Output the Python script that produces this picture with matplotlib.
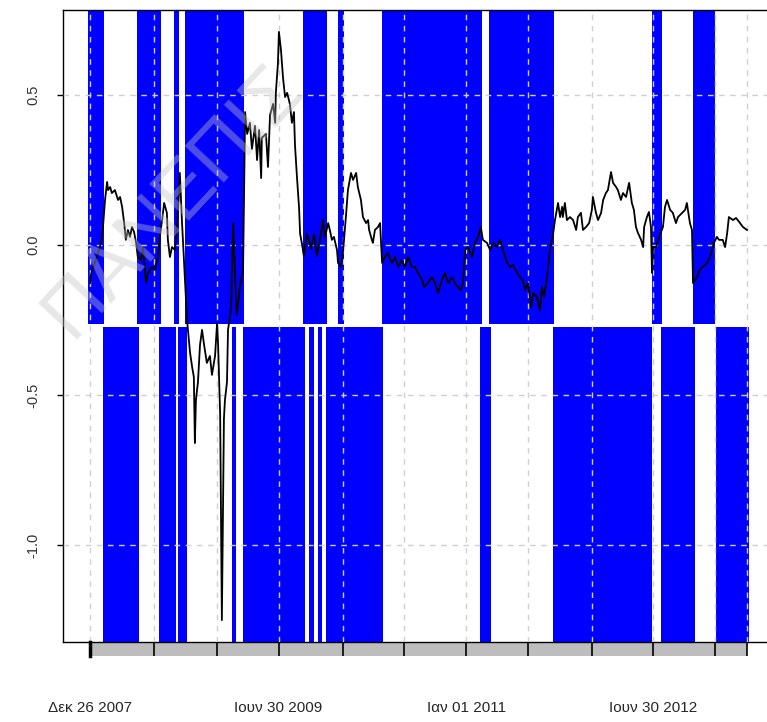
import numpy as np
import matplotlib.pyplot as plt
import matplotlib.dates as mdates
import matplotlib.transforms as mtransforms
from matplotlib.patches import Rectangle

plt.rcParams['font.family'] = ['Liberation Sans', 'DejaVu Sans']

START = np.datetime64('2007-12-26')

# spread series, day offsets from START and values
obs_day = [0, 3, 6, 15, 20, 29, 35, 38, 44, 50, 53, 59, 64, 73, 82, 88, 94, 100, 105, 111,
           117, 123, 129, 135, 140, 149, 155, 164, 170, 181, 190, 199, 205, 211, 217, 225,
           228, 234, 240, 249, 258, 263, 269, 275, 284, 293, 299, 304, 307, 310, 316, 322,
           328, 334, 342, 351, 357, 366, 372, 375, 381, 386, 392, 395, 401, 404, 413, 419,
           424, 430, 439, 448, 454, 460, 468, 474, 483, 489, 495, 501, 503, 515, 521, 527,
           536, 542, 544, 550, 553, 559, 565, 571, 577, 585, 591, 597, 600, 606, 612, 615,
           621, 626, 635, 647, 656, 664, 673, 682, 688, 697, 702, 708, 714, 723, 726, 735,
           741, 749, 755, 764, 770, 779, 784, 793, 799, 808, 814, 817, 825, 828, 834, 843,
           849, 855, 863, 872, 884, 893, 902, 913, 922, 931, 942, 951, 960, 972, 978, 989,
           1001, 1010, 1019, 1030, 1039, 1048, 1060, 1068, 1077, 1086, 1092, 1098, 1106, 1118,
           1127, 1136, 1144, 1150, 1162, 1171, 1180, 1191, 1200, 1209, 1221, 1229, 1238, 1250,
           1259, 1267, 1273, 1282, 1291, 1297, 1308, 1317, 1323, 1329, 1338, 1346, 1355, 1361,
           1370, 1376, 1382, 1384, 1390, 1396, 1405, 1414, 1423, 1428, 1437, 1443, 1452, 1461,
           1469, 1472, 1481, 1487, 1496, 1502, 1510, 1516, 1525, 1531, 1540, 1545, 1554, 1560,
           1569, 1578, 1586, 1592, 1598, 1604, 1613, 1619, 1622, 1630, 1636, 1642, 1645, 1648,
           1657, 1666, 1677, 1683, 1689, 1698, 1706, 1715, 1721, 1733, 1742, 1747, 1756, 1762,
           1765, 1777, 1785, 1794, 1806, 1815, 1826, 1835, 1841, 1852, 1859, 1865, 1870, 1882,
           1891, 1900, 1911, 1923]
obs_val = [-0.127, -0.100, -0.083, -0.057, -0.040, -0.007, 0.023, 0.060, 0.150, 0.210, 0.183,
           0.193, 0.173, 0.183, 0.150, 0.160, 0.127, 0.073, 0.017, 0.050, 0.027, 0.060, 0.043,
           0.007, -0.040, -0.050, -0.007, -0.127, -0.093, -0.073, -0.083, -0.040, 0.033, 0.083,
           0.140, 0.107, 0.017, -0.040, -0.007, -0.017, 0.117, 0.240, 0.083, -0.050, -0.250,
           -0.360, -0.407, -0.440, -0.660, -0.517, -0.457, -0.333, -0.283, -0.333, -0.393,
           -0.370, -0.433, -0.370, -0.260, -0.333, -0.567, -1.250, -0.580, -0.517, -0.457,
           -0.283, -0.210, 0.073, -0.087, -0.233, -0.137, -0.087, 0.443, 0.370, 0.407, 0.320,
           0.397, 0.283, 0.383, 0.223, 0.357, 0.370, 0.260, 0.433, 0.470, 0.407, 0.507, 0.603,
           0.710, 0.650, 0.557, 0.493, 0.507, 0.470, 0.407, 0.443, 0.333, 0.223, 0.123, 0.037,
           0.000, -0.037, 0.037, -0.013, 0.037, -0.037, 0.017, 0.083, 0.027, 0.073, 0.050,
           0.017, 0.027, -0.017, -0.060, -0.073, -0.017, 0.093, 0.183, 0.240, 0.217, 0.240,
           0.193, 0.150, 0.093, 0.073, 0.083, 0.050, 0.017, 0.007, 0.050, 0.060, 0.073, -0.060,
           -0.040, -0.027, -0.060, -0.040, -0.073, -0.050, -0.073, -0.040, -0.073, -0.073,
           -0.093, -0.117, -0.140, -0.127, -0.107, -0.127, -0.160, -0.117, -0.093, -0.127,
           -0.107, -0.127, -0.140, -0.150, -0.127, -0.017, -0.007, -0.040, 0.007, 0.027, 0.060,
           0.017, 0.007, -0.017, 0.007, -0.007, 0.017, -0.017, -0.060, -0.073, -0.067, -0.093,
           -0.107, -0.117, -0.150, -0.127, -0.207, -0.160, -0.173, -0.217, -0.140, -0.173,
           -0.107, -0.017, 0.033, 0.083, 0.140, 0.093, 0.127, 0.093, 0.140, 0.083, 0.093, 0.083,
           0.050, 0.093, 0.107, 0.050, 0.060, 0.073, 0.117, 0.160, 0.107, 0.083, 0.107, 0.150,
           0.173, 0.183, 0.243, 0.207, 0.193, 0.183, 0.150, 0.173, 0.160, 0.207, 0.140, 0.117,
           0.060, 0.040, 0.017, -0.007, 0.060, 0.093, 0.110, 0.060, -0.093, -0.007, -0.007,
           0.027, 0.060, 0.127, 0.150, 0.117, 0.107, 0.073, 0.093, 0.107, 0.117, 0.140, 0.073,
           0.050, -0.127, -0.107, -0.083, -0.073, -0.060, -0.040, 0.007, 0.027, 0.017, 0.017,
           -0.007, 0.040, 0.093, 0.083, 0.090, 0.077, 0.060, 0.050]

# regime periods (day offsets), upper and lower panels
upper_regimes = [(-6, 41), (138, 208), (246, 261), (278, 451), (624, 694), (726, 744),
                 (855, 1147), (1168, 1358), (1645, 1674), (1765, 1829)]
lower_regimes = [(38, 143), (202, 252), (258, 284), (416, 427), (448, 629), (641, 656),
                 (667, 679), (691, 858), (1142, 1174), (1355, 1645), (1672, 1771),
                 (1832, 1929)]
split_level = -0.268

tick_dates = ['2007-12-26', '2008-07-01', '2009-01-02', '2009-06-30', '2010-01-04',
              '2010-07-01', '2011-01-01', '2011-07-01', '2012-01-02', '2012-06-30',
              '2012-12-27', '2013-04-02']
label_dates = ['2007-12-26', '2009-06-30', '2011-01-01', '2012-06-30']
label_text = ['Δεκ 26 2007', 'Ιουν 30 2009', 'Ιαν 01 2011', 'Ιουν 30 2012']
y_ticks = [0.5, 0.0, -0.5, -1.0]


def day_num(days):
    return mdates.date2num(START + np.asarray(days).astype('timedelta64[D]'))


W, H = 767, 722
fig = plt.figure(figsize=(W / 100, H / 100), dpi=100)
ax = fig.add_axes([63 / W, (H - 642) / H, (775 - 63) / W, (642 - 10) / H])

ylo, yhi = -1.323, 0.783
ax.set_ylim(ylo, yhi)
ax.set_xlim(day_num(-79), day_num(2005))
frac = (split_level - ylo) / (yhi - ylo)

for a, b in upper_regimes:
    ax.axvspan(day_num(a), day_num(b), ymin=frac + 0.002, ymax=1, color='#0000ff',
               lw=0, zorder=1)
for a, b in lower_regimes:
    ax.axvspan(day_num(a), day_num(b), ymin=0, ymax=frac - 0.002, color='#0000ff',
               lw=0, zorder=1)

ax.plot(day_num(obs_day), obs_val, color='black', lw=1.3, zorder=3)

ticks = mdates.date2num(np.array(tick_dates, dtype='datetime64[D]'))
ax.set_xticks(ticks)
ax.set_xticklabels([])
ax.tick_params(axis='x', direction='out', length=10, width=1.2, color='black')
ax.set_yticks(y_ticks)
ax.set_yticklabels(['0.5', '0.0', '-0.5', '-1.0'], rotation=90, va='center',
                   fontsize=10.5, color='#333333')
ax.tick_params(axis='y', direction='out', length=4.5, width=1.0, pad=11.5)

ax.set_axisbelow(False)
ax.grid(True, color='#d0d0d0', linestyle=(0, (4, 4)), lw=1.0)

for sp in ax.spines.values():
    sp.set_linewidth(1.0)

# grey strip under the time axis
trans = mtransforms.blended_transform_factory(ax.transData, ax.transAxes)
ax.add_patch(Rectangle((ticks[0], -0.0222), ticks[-1] - ticks[0], 0.0222,
                       transform=trans, color='#bdbdbd', lw=0, clip_on=False, zorder=0))
ax.plot([ticks[0], ticks[0]], [-0.0222, 0], transform=trans, color='black', lw=2.5,
        clip_on=False, zorder=4)

lab = mdates.date2num(np.array(label_dates, dtype='datetime64[D]'))
for x, t in zip(lab, label_text):
    ax.text(x, -0.104, t, transform=trans, ha='center', va='center', fontsize=11,
            color='#262626')

# faint diagonal watermark
fig.text(72 / W, (H - 340) / H, 'ΠΑΝΕΠΙΣ', rotation=47, rotation_mode='anchor',
         ha='left', va='baseline', fontsize=56, color='#c4c4c4', alpha=0.4, zorder=10)

fig.savefig('out.png', dpi=100)
